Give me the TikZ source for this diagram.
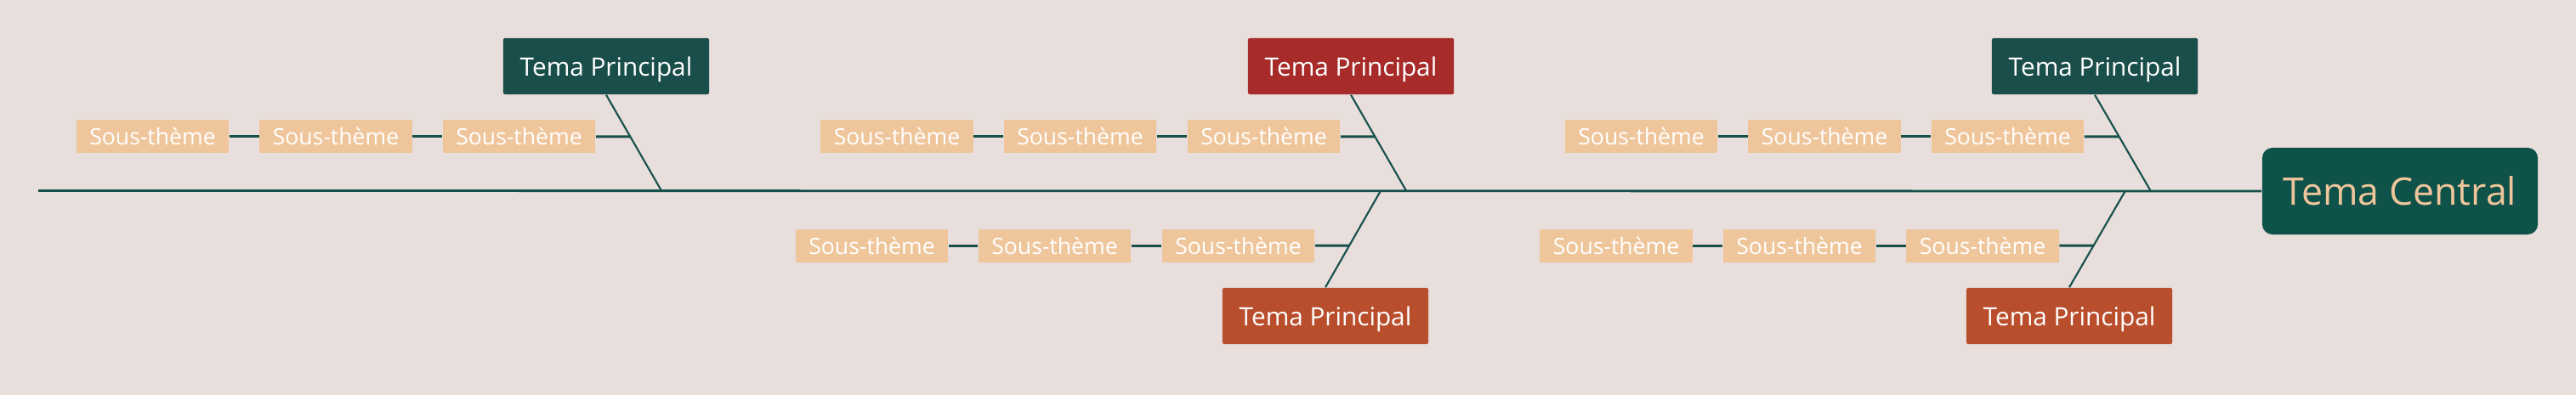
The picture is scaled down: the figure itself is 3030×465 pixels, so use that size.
\documentclass[tikz,border=0pt]{standalone}
\usepackage{fontspec}
\setmainfont{Open Sans}
\usepackage{xcolor}
\usepackage{tikz}

\definecolor{paper}{HTML}{E8DEDC}
\definecolor{bone}{HTML}{17504A}
\definecolor{teal}{HTML}{1A4E4A}
\definecolor{central}{HTML}{0F5249}
\definecolor{wine}{HTML}{A62B29}
\definecolor{rust}{HTML}{B94E2D}
\definecolor{peach}{HTML}{EFC69B}

\begin{document}
\begin{tikzpicture}[x=0.01cm, y=-0.01cm,
    head/.style={rectangle, rounded corners=0.12cm, fill=central, text=peach, minimum width=3.24cm, minimum height=1.02cm, inner sep=0pt, text depth=0pt, font=\fontsize{12.7}{15}\selectfont},
    topic/.style={rectangle, rounded corners=0.02cm, text=white, minimum width=2.42cm, minimum height=0.66cm, inner sep=0pt, text depth=0pt, font=\fontsize{8.45}{10}\selectfont},
    sub/.style={rectangle, fill=peach, text=white, minimum width=1.79cm, minimum height=0.39cm, inner sep=0pt, text depth=0pt, font=\fontsize{7.55}{9}\selectfont},
    spine/.style={draw=bone, line width=0.8pt},
    rib/.style={draw=bone, line width=0.6pt},
    twig/.style={draw=bone, line width=0.85pt}]

    % Background
    \fill[paper] (0,0) rectangle (3030,465);
    \useasboundingbox (0,0) rectangle (3030,465);

    % Head
    \node[head] (CT) at (2823,225) {Tema Central};

    % Main topics
    \node[topic, fill=teal] (TP1) at (713,78) {Tema Principal};
    \node[topic, fill=wine] (TP2) at (1589,78) {Tema Principal};
    \node[topic, fill=teal] (TP3) at (2464,78) {Tema Principal};
    \node[topic, fill=rust] (TP4) at (1559,372) {Tema Principal};
    \node[topic, fill=rust] (TP5) at (2434,372) {Tema Principal};

    % Row 1: sub-topics above the spine
    \node[sub] (S11) at (179.5,160.5) {Sous-thème};
    \node[sub] (S12) at (395,160.5) {Sous-thème};
    \node[sub] (S13) at (610.5,160.5) {Sous-thème};
    \node[sub] (S21) at (1055,160.5) {Sous-thème};
    \node[sub] (S22) at (1270.5,160.5) {Sous-thème};
    \node[sub] (S23) at (1486.5,160.5) {Sous-thème};
    \node[sub] (S31) at (1930.5,160.5) {Sous-thème};
    \node[sub] (S32) at (2146,160.5) {Sous-thème};
    \node[sub] (S33) at (2361.5,160.5) {Sous-thème};

    % Row 2: sub-topics below the spine
    \node[sub] (S41) at (1025.5,289.5) {Sous-thème};
    \node[sub] (S42) at (1240.5,289.5) {Sous-thème};
    \node[sub] (S43) at (1456.5,289.5) {Sous-thème};
    \node[sub] (S51) at (1901,289.5) {Sous-thème};
    \node[sub] (S52) at (2116.5,289.5) {Sous-thème};
    \node[sub] (S53) at (2332,289.5) {Sous-thème};

    % Spine and joints
    \coordinate (tail) at (45,224.5);
    \coordinate (J1) at (778,224.5);
    \coordinate (J2) at (1654,224.5);
    \coordinate (J3) at (2529.5,224.5);
    \coordinate (J4) at (1624,224.5);
    \coordinate (J5) at (2500,224.5);
    \draw[spine] (tail) -- (CT.west);

    % Ribs
    \draw[rib] (TP1.south) -- (J1) coordinate[pos=0.436] (K1);
    \draw[rib] (TP2.south) -- (J2) coordinate[pos=0.436] (K2);
    \draw[rib] (TP3.south) -- (J3) coordinate[pos=0.436] (K3);
    \draw[rib] (J4) -- (TP4.north) coordinate[pos=0.568] (K4);
    \draw[rib] (J5) -- (TP5.north) coordinate[pos=0.568] (K5);

    % Twigs
    \draw[twig] (S11) -- (S12);
    \draw[twig] (S12) -- (S13);
    \draw[twig] (S13) -- (K1);
    \draw[twig] (S21) -- (S22);
    \draw[twig] (S22) -- (S23);
    \draw[twig] (S23) -- (K2);
    \draw[twig] (S31) -- (S32);
    \draw[twig] (S32) -- (S33);
    \draw[twig] (S33) -- (K3);
    \draw[twig] (S41) -- (S42);
    \draw[twig] (S42) -- (S43);
    \draw[twig] (S43) -- (K4);
    \draw[twig] (S51) -- (S52);
    \draw[twig] (S52) -- (S53);
    \draw[twig] (S53) -- (K5);
\end{tikzpicture}
\end{document}
